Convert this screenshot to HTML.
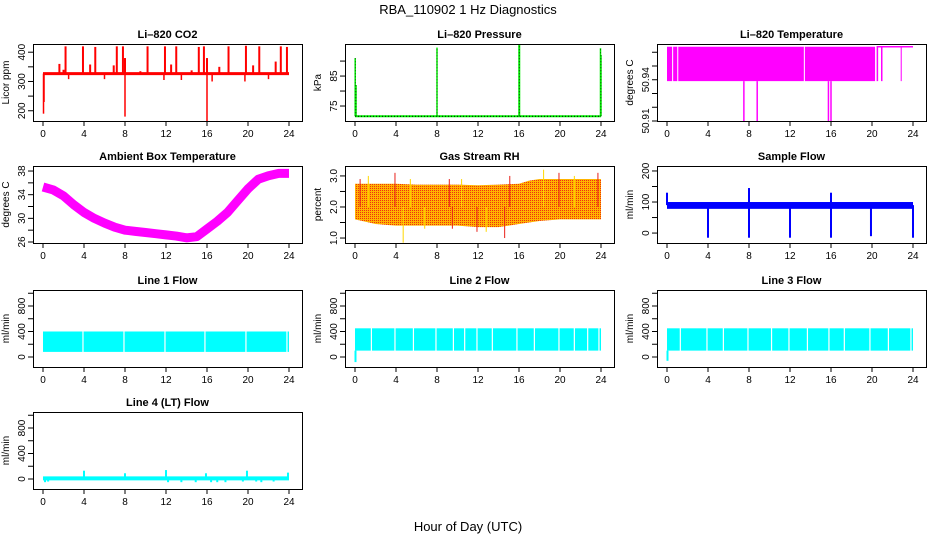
<!DOCTYPE html>
<html><head><meta charset="utf-8"><style>
html,body{margin:0;padding:0;background:#fff;}
svg{display:block;}
text{font-family:"Liberation Sans",Arial,sans-serif;}
</style></head><body>
<svg id="chart" width="936" height="540" xmlns="http://www.w3.org/2000/svg">
<defs>
<pattern id="rhpat" width="2" height="2" patternUnits="userSpaceOnUse">
<rect width="2" height="2" fill="#ffb400"/><rect width="1" height="1" fill="#ee3010"/>
</pattern>
</defs>
<text x="468" y="14" text-anchor="middle" font-size="13">RBA_110902  1 Hz Diagnostics</text>
<text x="468" y="531" text-anchor="middle" font-size="13">Hour of Day (UTC)</text>
</svg>
<script>
// ---- data ----
const xTicks=[0,4,8,12,16,20,24];
const co2Base=[327,327];
const co2BaseHours=[0,24];
const co2SpikeHours=[2.2,3.9,5.1,7.2,7.8,10.2,11.9,13.0,15.2,15.7,18.1,19.8,21.1,23.2,23.8,1.6,4.6,6.9,8.0,12.5,16.0,17.2,20.5,22.7,2.0,9.5,14.5];
const co2SpikeValues=[420,420,418,420,420,420,420,420,418,420,420,422,420,420,418,360,358,355,380,358,380,350,355,368,340,335,338];
const co2DipHours=[0.05,0.1,8.0,16.0,2.5,6.0,11.8,13.5,16.5,19.7,22.0];
const co2DipValues=[190,230,180,165,308,308,305,305,300,300,308];

const presBase=71.6;
const presSpikeHours=[0.02,0.1,8.0,16.0,16.05,23.95,24.0];
const presSpikeValues=[91,82,94.5,95.5,95.5,94.3,92];

const tempBandStart=[0,0.6,1.1,13.45,20.45,22.8];
const tempBandEnd=[0.5,1.0,13.35,20.3,20.6,22.9];
const tempLow=50.939, tempHigh=50.964;
const tempDropHours=[7.5,8.8,15.75,16.0];
const tempDropValues=[50.91,50.91,50.91,50.91];

const ambHours=[0,1,2,3,4,5,6,7,8,9,10,11,12,13,14,15,16,17,18,19,20,21,22,23,24];
const ambValues=[35.3,34.8,33.8,32.3,31.0,30.0,29.2,28.5,28.0,27.8,27.6,27.4,27.2,27.0,26.7,26.9,28.2,29.5,31.0,33.0,35.0,36.6,37.2,37.6,37.6];

const rhHours=[0,2,4,6,8,10,12,14,16,17,18,20,22,24];
const rhLow=[1.6,1.45,1.4,1.4,1.4,1.4,1.35,1.35,1.45,1.5,1.55,1.6,1.6,1.6];
const rhHigh=[2.75,2.75,2.75,2.72,2.72,2.72,2.7,2.72,2.75,2.85,2.9,2.9,2.9,2.9];
const rhSpikeHours=[0.5,1.3,3.9,5.4,9.2,10.4,15.1,18.4,19.9,21.4,23.7,4.7,11.9,12.8,14.6,6.8,9.5];
const rhSpikeValues=[2.9,3.0,3.1,2.9,2.9,2.9,3.0,3.2,3.1,3.0,3.1,0.85,1.2,1.2,1.0,1.3,1.3];

const sfLow=78, sfHigh=100;
const sfSpikeHours=[0,8,16,4,8,12,16,19.9,24];
const sfSpikeValues=[130,145,130,-15,-15,-15,-15,-10,-15];

const l1Low=80, l1High=400;
const l1Gaps=[3.9,7.9,11.9,15.8,19.8,23.8];
const l2Low=100, l2High=450;
const l2Gaps=[1.6,3.9,5.7,7.9,9.6,10.7,11.9,13.4,15.8,17.5,19.9,21.4,22.7,23.8];
const l2Dip=-80;
const l3Low=100, l3High=450;
const l3Gaps=[1.3,3.9,5.5,7.9,10.2,11.9,13.7,15.8,17.3,19.8,21.6,23.8];
const l3Dip=-60;
const l4Base=10;
const l4SpikeHours=[4,8,12,15.9,19.9,23.9,0.2,0.5,12.2,13.5,14.9,16.4,17.0,17.8,19.5,20.8,21.3,22.5];
const l4SpikeValues=[130,90,140,90,130,100,-50,-40,-50,-50,-50,-50,-50,-50,-40,-40,-50,-40];

// ---- helpers ----
const NS='http://www.w3.org/2000/svg';
const svg=document.getElementById('chart');
function el(tag,attrs,parent){const e=document.createElementNS(NS,tag);for(const k in attrs)e.setAttribute(k,attrs[k]);(parent||svg).appendChild(e);return e;}
const colX=[0,312,624], rowY=[44,166,290,412], BH=77, BW=269;

function panel(c,r,title,ylab,ylim,ticks,labels,name){
  const L=colX[c]+33, T=rowY[r], B=T+BH;
  const g=el('g',{});
  
  
  const x=h=>L+10+h*246/24;
  const y=v=>T+(ylim[1]-v)/(ylim[1]-ylim[0])*BH;
  const t=el('text',{x:L+BW/2,y:T-6,'text-anchor':'middle','font-size':11,'font-weight':'bold'},g);
  t.textContent=title;
  
  
  const data=el('g',{},g);
  
  
  const ax=el('g',{stroke:'#000','stroke-width':1},g);
  
  
  el('rect',{x:L+0.5,y:T+0.5,width:BW,height:BH,fill:'none'},ax);
  xTicks.forEach(h=>{
    el('line',{x1:x(h),x2:x(h),y1:B,y2:B+5},ax);
    const tl=el('text',{x:x(h),y:B+16,'text-anchor':'middle','font-size':10,stroke:'none'},g);
    tl.textContent=h;
    
    
  });
  ticks.forEach((v,i)=>{
    el('line',{x1:L-5,x2:L,y1:y(v),y2:y(v)},ax);
    if(labels[i]!==''){
      const yl=el('text',{x:0,y:0,transform:`translate(${L-8},${y(v)}) rotate(-90)`,'text-anchor':'middle','font-size':10,stroke:'none'},g);
      yl.textContent=labels[i];
      
      
    }
  });
  const yt=el('text',{x:0,y:0,transform:`translate(${L-24},${T+BH/2}) rotate(-90)`,'text-anchor':'middle','font-size':10},g);
  yt.textContent=ylab;
  
  
  return {g:data,x,y};
}
function vline(p,h,v1,v2,col,w){return el('line',{x1:p.x(h),x2:p.x(h),y1:p.y(v1),y2:p.y(v2),stroke:col,'stroke-width':w||1.5},p.g);}
function band(p,h1,h2,lo,hi,fill){return el('rect',{x:p.x(h1),y:p.y(hi),width:p.x(h2)-p.x(h1),height:p.y(lo)-p.y(hi),fill:fill},p.g);}

// CO2
let p=panel(0,0,'Li\u2013820 CO2','Licor ppm',[165,428],[200,250,300,350,400],['200','','300','','400'],'co2');
el('line',{x1:p.x(co2BaseHours[0]),x2:p.x(co2BaseHours[1]),y1:p.y(co2Base[0]),y2:p.y(co2Base[1]),stroke:'#ff0000','stroke-width':3},p.g);
co2SpikeHours.forEach((h,i)=>vline(p,h,co2Base[0],co2SpikeValues[i],'#ff0000',2));
co2DipHours.forEach((h,i)=>vline(p,h,co2Base[0],co2DipValues[i],'#ff0000',1.5));

// Pressure
p=panel(1,0,'Li\u2013820 Pressure','kPa',[70,95.7],[75,80,85,90],['75','','85',''],'pressure');
el('line',{x1:p.x(0),x2:p.x(24),y1:p.y(presBase),y2:p.y(presBase),stroke:'#00ee00','stroke-width':2},p.g);
el('line',{x1:p.x(0),x2:p.x(24),y1:p.y(presBase),y2:p.y(presBase),stroke:'#000','stroke-width':1,'stroke-dasharray':'1,2'},p.g);
presSpikeHours.forEach((h,i)=>{vline(p,h,presBase,presSpikeValues[i],'#00ee00',1.5);vline(p,h,presBase,presSpikeValues[i],'#000',0.6).setAttribute('stroke-dasharray','1,2');});

// Temperature
p=panel(2,0,'Li\u2013820 Temperature','degrees C',[50.91,50.966],[50.91,50.92,50.93,50.94,50.95,50.96],['50.91','','','50.94','',''],'li820-temperature');
tempBandStart.forEach((s,i)=>band(p,s,tempBandEnd[i],tempLow,tempHigh,'#ff00ff'));
el('line',{x1:p.x(20.45),x2:p.x(24),y1:p.y(tempHigh),y2:p.y(tempHigh),stroke:'#ff00ff','stroke-width':1.5},p.g);
vline(p,20.95,tempHigh,tempLow,'#ff00ff',1.5);
tempDropHours.forEach((h,i)=>vline(p,h,tempLow,tempDropValues[i],'#ff00ff',1.5));

// Ambient
p=panel(0,1,'Ambient Box Temperature','degrees C',[25.83,38.85],[26,28,30,32,34,36,38],['26','','30','','34','','38'],'ambient-temperature');
el('polyline',{points:ambHours.map((h,i)=>p.x(h)+','+p.y(ambValues[i])).join(' '),fill:'none',stroke:'#ff00ff','stroke-width':9,'stroke-linejoin':'round'},p.g);

// RH
p=panel(1,1,'Gas Stream RH','percent',[0.84,3.32],[1.0,1.5,2.0,2.5,3.0],['1.0','','2.0','','3.0'],'gas-stream-rh');
const rhPts=rhHours.map((h,i)=>p.x(h)+','+p.y(rhHigh[i])).concat(rhHours.slice().reverse().map((h,j)=>p.x(h)+','+p.y(rhLow[rhHours.length-1-j])));
el('polygon',{points:rhPts.join(' '),fill:'url(#rhpat)'},p.g);
rhSpikeHours.forEach((h,i)=>vline(p,h,2.0,rhSpikeValues[i],i%2?'#ffd800':'#e8201a',1));

// Sample flow
p=panel(2,1,'Sample Flow','ml/min',[-32,216],[0,50,100,150,200],['0','','100','','200'],'sample-flow');
band(p,0,24,sfLow,sfHigh,'#0000ff');
sfSpikeHours.forEach((h,i)=>vline(p,h,90,sfSpikeValues[i],'#0000ff',2));

// Line flows
function flowPanel(c,r,title,name,lo,hi,gaps,dip){
  const q=panel(c,r,title,'ml/min',[-157,1051],[0,200,400,600,800,1000],['0','','400','','800',''],name);
  band(q,0,24,lo,hi,'#00ffff');
  gaps.forEach(h=>vline(q,h,lo-20,hi+20,'#ffffff',1.2));
  if(dip!==null) vline(q,0.05,lo,dip,'#00ffff',2);
  return q;
}
flowPanel(0,2,'Line 1 Flow','line1-flow',l1Low,l1High,l1Gaps,null);
flowPanel(1,2,'Line 2 Flow','line2-flow',l2Low,l2High,l2Gaps,l2Dip);
flowPanel(2,2,'Line 3 Flow','line3-flow',l3Low,l3High,l3Gaps,l3Dip);
p=panel(0,3,'Line 4 (LT) Flow','ml/min',[-157,1051],[0,200,400,600,800,1000],['0','','400','','800',''],'line4-flow');
el('line',{x1:p.x(0),x2:p.x(24),y1:p.y(l4Base),y2:p.y(l4Base),stroke:'#00ffff','stroke-width':4},p.g);
l4SpikeHours.forEach((h,i)=>vline(p,h,l4Base,l4SpikeValues[i],'#00ffff',2));
</script>
</body></html>
